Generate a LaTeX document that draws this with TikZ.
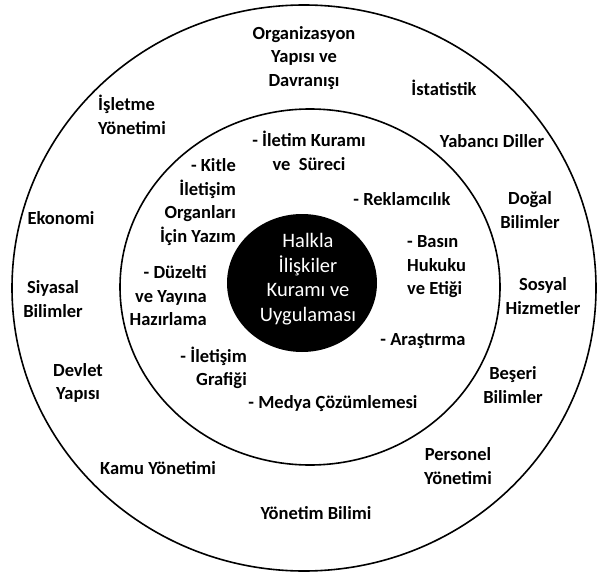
\documentclass[tikz,border=0pt]{standalone}
\usepackage{fontspec}
\setmainfont{Carlito}
\begin{document}
\begin{tikzpicture}[x=1pt,y=-1pt,
  ring/.style={line width=1.6pt},
  lbl/.style={inner sep=0pt,font=\bfseries\fontsize{18.5}{23.5}\selectfont,align=center},
  lblL/.style={lbl,align=left},
  lblR/.style={lbl,align=right},
  core/.style={inner sep=0pt,text=white,font=\fontsize{20.5}{24.5}\selectfont,align=center}]
\useasboundingbox (0,0) rectangle (597,575);
\draw[ring] (304,288) ellipse [x radius=292, y radius=283];
\draw[ring] (310,287) ellipse [x radius=190, y radius=178];
\fill[black] (302,283) ellipse [x radius=75, y radius=69];
\node[core] (c) at (308,279) {Halkla\\İlişkiler\\Kuramı ve\\Uygulaması};
% outer ring
\node[lbl] (o1) at (304,58) {Organizasyon\\Yapısı ve\\Davranışı};
\node[lbl] (o2) at (444,88) {İstatistik};
\node[lblL,anchor=west] (o3) at (98,115) {İşletme\\Yönetimi};
\node[lbl] (o4) at (492,141) {Yabancı Diller};
\node[lbl] (o5) at (530,210) {Doğal\\Bilimler};
\node[lbl] (o6) at (61,218) {Ekonomi};
\node[lbl] (o7) at (53,299) {Siyasal\\Bilimler};
\node[lbl] (o8) at (543,296) {Sosyal\\Hizmetler};
\node[lbl] (o9) at (78,383) {Devlet\\Yapısı};
\node[lbl] (o10) at (513,385) {Beşeri\\Bilimler};
\node[lbl] (o11) at (158,468) {Kamu Yönetimi};
\node[lbl] (o12) at (458,466) {Personel\\Yönetimi};
\node[lbl] (o13) at (316,513) {Yönetim Bilimi};
% inner ring
\node[lbl] (i1) at (309,151) {- İletim Kuramı\\ve\ \ Süreci};
\node[lblR,anchor=east] (i2) at (236,202) {- Kitle\\İletişim\\Organları\\İçin Yazım};
\node[lbl] (i3) at (402,199) {- Reklamcılık};
\node[lblL,anchor=west] (i4) at (407,267) {- Basın\\Hukuku\\ve Etiği};
\node[lblR,anchor=east] (i5) at (207,296) {- Düzelti\\ve Yayına\\Hazırlama};
\node[lblR,anchor=east] (i6) at (247,368) {- İletişim\\Grafiği};
\node[lbl] (i7) at (423,341) {- Araştırma};
\node[lbl] (i8) at (333,404) {- Medya Çözümlemesi};
\end{tikzpicture}
\end{document}
